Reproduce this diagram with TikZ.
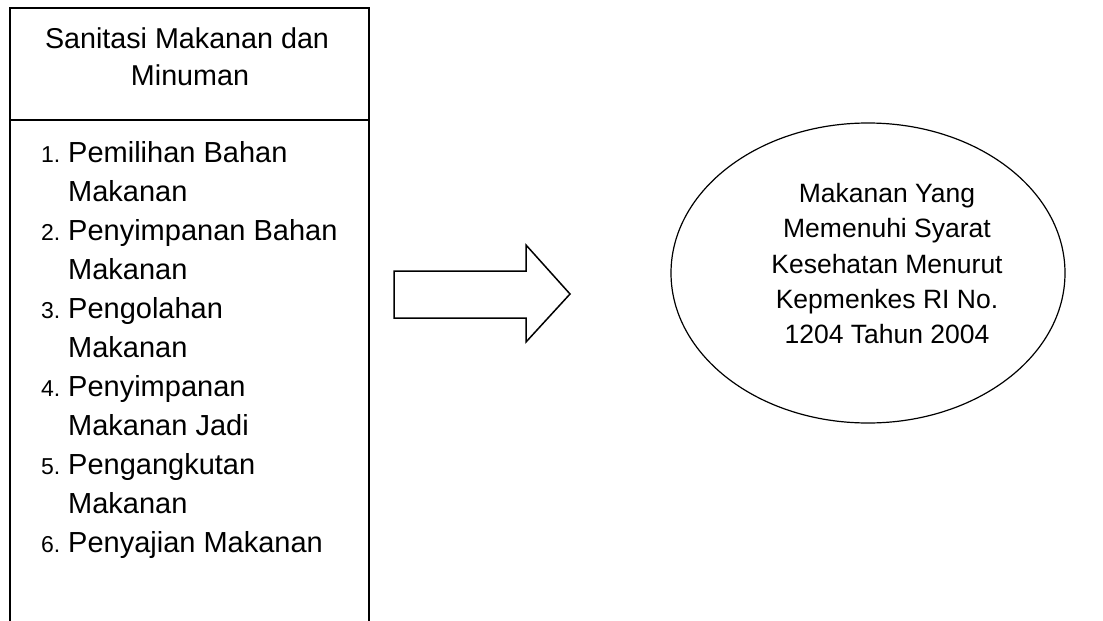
\documentclass[tikz,border=0pt]{standalone}
\usepackage{fontspec}
\setmainfont{Liberation Sans}
\usetikzlibrary{shapes.geometric}
\begin{document}
\begin{tikzpicture}[x=1pt,y=-1pt,
  hd/.style={font=\fontsize{28.7}{36}\selectfont, inner sep=0, anchor=base},
  txt/.style={font=\fontsize{29}{36}\selectfont, inner sep=0, anchor=base west},
  num/.style={font=\fontsize{23}{36}\selectfont, inner sep=0, anchor=base west},
  el/.style={font=\fontsize{26.5}{36}\selectfont, inner sep=0, anchor=base},
  ln/.style={line width=1.8pt}]
\useasboundingbox (0,0) rectangle (1103,621);
% box
\coordinate (bl) at (10,622);
\coordinate (tl) at (10,8);
\coordinate (tr) at (369,8);
\coordinate (br) at (369,622);
\coordinate (dl) at (10,120);
\coordinate (dr) at (369,120);
\draw[ln] (bl) -- (tl) -- (tr) -- (br);
\draw[ln] (dl) -- (dr);
\node[hd] (h1) at (187,48) {Sanitasi Makanan dan};
\node[hd] (h2) at (190,85) {Minuman};
% list
\node[num] (n1) at (41,162) {1.};
\node[txt] (t1) at (68,162) {Pemilihan Bahan};
\node[txt] (t1b) at (68,201) {Makanan};
\node[num] (n2) at (41,240) {2.};
\node[txt] (t2) at (68,240) {Penyimpanan Bahan};
\node[txt] (t2b) at (68,279) {Makanan};
\node[num] (n3) at (41,318) {3.};
\node[txt] (t3) at (68,318) {Pengolahan};
\node[txt] (t3b) at (68,357) {Makanan};
\node[num] (n4) at (41,396) {4.};
\node[txt] (t4) at (68,396) {Penyimpanan};
\node[txt] (t4b) at (68,435) {Makanan Jadi};
\node[num] (n5) at (41,474) {5.};
\node[txt] (t5) at (68,474) {Pengangkutan};
\node[txt] (t5b) at (68,513) {Makanan};
\node[num] (n6) at (41,552) {6.};
\node[txt] (t6) at (68,552) {Penyajian Makanan};
% block arrow
\coordinate (a1) at (394,271);
\coordinate (a2) at (526,271);
\coordinate (a3) at (526,245);
\coordinate (a4) at (570,294);
\coordinate (a5) at (526,342);
\coordinate (a6) at (526,318);
\coordinate (a7) at (394,318);
\draw[line width=1.5pt, line join=miter] (a1) -- (a2) -- (a3) -- (a4) -- (a5) -- (a6) -- (a7) -- cycle;
% ellipse
\node[ellipse, draw, line width=1.2pt, minimum width=394pt, minimum height=300pt, inner sep=0] (ell) at (868,273) {};
\node[el] (e1) at (887,202) {Makanan Yang};
\node[el] (e2) at (887,237) {Memenuhi Syarat};
\node[el] (e3) at (887,273) {Kesehatan Menurut};
\node[el] (e4) at (887,308) {Kepmenkes RI No.};
\node[el] (e5) at (887,343) {1204 Tahun 2004};
\end{tikzpicture}
\end{document}
